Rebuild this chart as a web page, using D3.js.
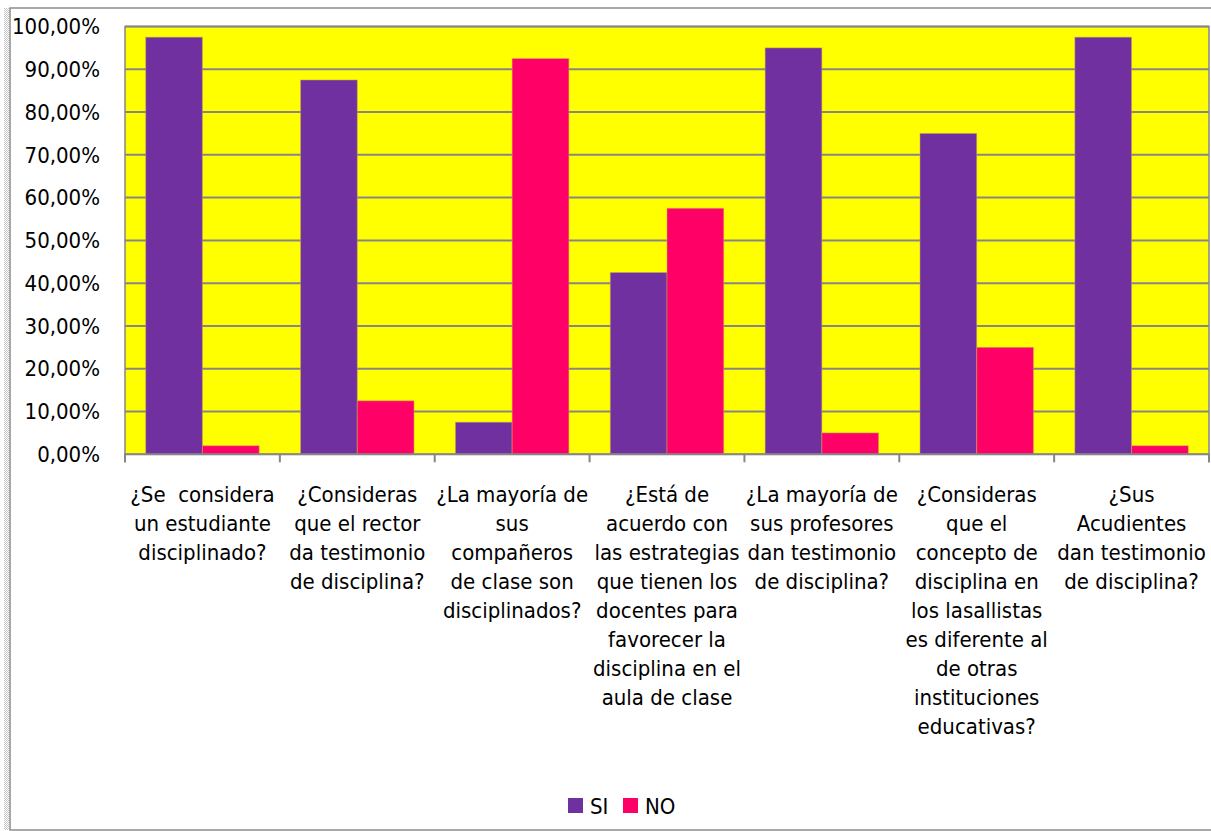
<!DOCTYPE html>
<html>
<head>
<meta charset="utf-8">
<script src="https://cdn.jsdelivr.net/npm/d3@7"></script>
<style>
  body { margin: 0; background: #fff; }
  text { font-family: "Liberation Sans Narrow", "DejaVu Sans Condensed", "Roboto Condensed", sans-serif; fill: #000; white-space: pre; }
</style>
</head>
<body>
<svg id="canvas" width="1211" height="831"></svg>
<script>
let categories = [
    ["¿Se  considera", "un estudiante", "disciplinado?"],
    ["¿Consideras", "que el rector", "da testimonio", "de disciplina?"],
    ["¿La mayoría de", "sus", "compañeros", "de clase son", "disciplinados?"],
    ["¿Está de", "acuerdo con", "las estrategias", "que tienen los", "docentes para", "favorecer la", "disciplina en el", "aula de clase"],
    ["¿La mayoría de", "sus profesores", "dan testimonio", "de disciplina?"],
    ["¿Consideras", "que el", "concepto de", "disciplina en", "los lasallistas", "es diferente al", "de otras", "instituciones", "educativas?"],
    ["¿Sus", "Acudientes", "dan testimonio", "de disciplina?"]
]
let seriesNames = ["SI", "NO"]
let siValues = [97.5, 87.5, 7.5, 42.5, 95, 75, 97.5]
let noValues = [2, 12.5, 92.5, 57.5, 5, 25, 2]
let yTicks = [0, 10, 20, 30, 40, 50, 60, 70, 80, 90, 100]
let colors = ["#7030A0", "#FF0066"]

let canvas = d3.select('#canvas')

// dotted strip on the left edge (selection handle look)
let defs = canvas.append('defs')
let pat = defs.append('pattern')
    .attr('id', 'dots')
    .attr('width', 2).attr('height', 2)
    .attr('patternUnits', 'userSpaceOnUse')
pat.append('rect').attr('width', 1).attr('height', 1).attr('fill', '#c8c8c8')
pat.append('rect').attr('x', 1).attr('y', 1).attr('width', 1).attr('height', 1).attr('fill', '#c8c8c8')
canvas.append('rect')
    .attr('x', 4).attr('y', 8)
    .attr('width', 5).attr('height', 822)
    .attr('fill', 'url(#dots)')

// outer chart frame
canvas.append('rect')
    .attr('x', 10).attr('y', 8)
    .attr('width', 1210).attr('height', 822)
    .attr('fill', 'none')
    .attr('stroke', '#8c8c8c')
    .attr('stroke-width', 1.5)

let plot = { left: 125, right: 1209, top: 26.5, bottom: 454.3 }

let x = d3.scaleBand()
    .domain(d3.range(categories.length))
    .range([plot.left, plot.right])

let gap = 20.7
let xInner = d3.scaleBand()
    .domain(seriesNames)
    .range([gap, x.bandwidth() - gap])

let y = d3.scaleLinear()
    .domain([0, 100])
    .range([plot.bottom, plot.top])

canvas.append('rect')
    .attr('x', plot.left).attr('y', plot.top)
    .attr('width', plot.right - plot.left)
    .attr('height', plot.bottom - plot.top)
    .attr('fill', '#FFFF00')
    .attr('stroke', '#868686')
    .attr('stroke-width', 1.5)

// gridlines
canvas.append('g')
    .selectAll('line')
    .data(yTicks.filter(d => d > 0))
    .enter()
    .append('line')
    .attr('x1', plot.left).attr('x2', plot.right)
    .attr('y1', d => y(d)).attr('y2', d => y(d))
    .attr('stroke', '#868686')
    .attr('stroke-width', 2)

// bars
let groups = canvas.append('g')
    .selectAll('g')
    .data(categories.map((c, i) => i))
    .enter()
    .append('g')
    .attr('transform', i => 'translate(' + x(i) + ',0)')

groups.selectAll('rect')
    .data(i => [
        { key: 'SI', value: siValues[i] },
        { key: 'NO', value: noValues[i] }
    ])
    .enter()
    .append('rect')
    .attr('x', d => xInner(d.key))
    .attr('y', d => y(d.value))
    .attr('width', xInner.bandwidth())
    .attr('height', d => y(0) - y(d.value))
    .attr('fill', (d, i) => colors[i])
    .attr('stroke', '#c9a860')
    .attr('stroke-opacity', 0.5)
    .attr('stroke-width', 1)

// x axis
let xAxis = d3.axisBottom(x).tickSize(8).tickFormat('')
let xg = canvas.append('g')
    .attr('transform', 'translate(0,' + plot.bottom + ')')
    .call(xAxis)
xg.select('.domain').attr('stroke', '#868686').attr('stroke-width', 2)
    .attr('d', 'M' + plot.left + ',8V0H' + plot.right + 'V8')
xg.selectAll('.tick').remove()
xg.selectAll('.bound')
    .data(d3.range(categories.length + 1))
    .enter()
    .append('line')
    .attr('x1', i => plot.left + i * x.step())
    .attr('x2', i => plot.left + i * x.step())
    .attr('y1', 0).attr('y2', 8)
    .attr('stroke', '#868686')
    .attr('stroke-width', 2)

// category labels
let labels = canvas.append('g')
    .selectAll('text')
    .data(categories)
    .enter()
    .append('text')
    .attr('x', (d, i) => x(i) + x.bandwidth() / 2)
    .attr('y', 502)
    .attr('text-anchor', 'middle')
    .style('font-size', '22px')
labels.selectAll('tspan')
    .data(d => d)
    .enter()
    .append('tspan')
    .attr('x', function () { return d3.select(this.parentNode).attr('x') })
    .attr('dy', (d, i) => i === 0 ? 0 : 29)
    .text(d => d)

// y axis labels
canvas.append('g')
    .selectAll('text')
    .data(yTicks)
    .enter()
    .append('text')
    .attr('x', 100)
    .attr('y', d => y(d))
    .attr('dy', '0.35em')
    .attr('text-anchor', 'end')
    .style('font-size', '22px')
    .text(d => d3.format('.2f')(d).replace('.', ',') + '%')

// legend
let legend = canvas.append('g')
    .selectAll('g')
    .data(seriesNames)
    .enter()
    .append('g')
    .attr('transform', (d, i) => 'translate(' + (568 + i * 55) + ',798)')
legend.append('rect')
    .attr('width', 15).attr('height', 15)
    .attr('fill', (d, i) => colors[i])
legend.append('text')
    .attr('x', 22).attr('y', 8)
    .attr('dy', '0.35em')
    .style('font-size', '22px')
    .text(d => d)
</script>
</body>
</html>
